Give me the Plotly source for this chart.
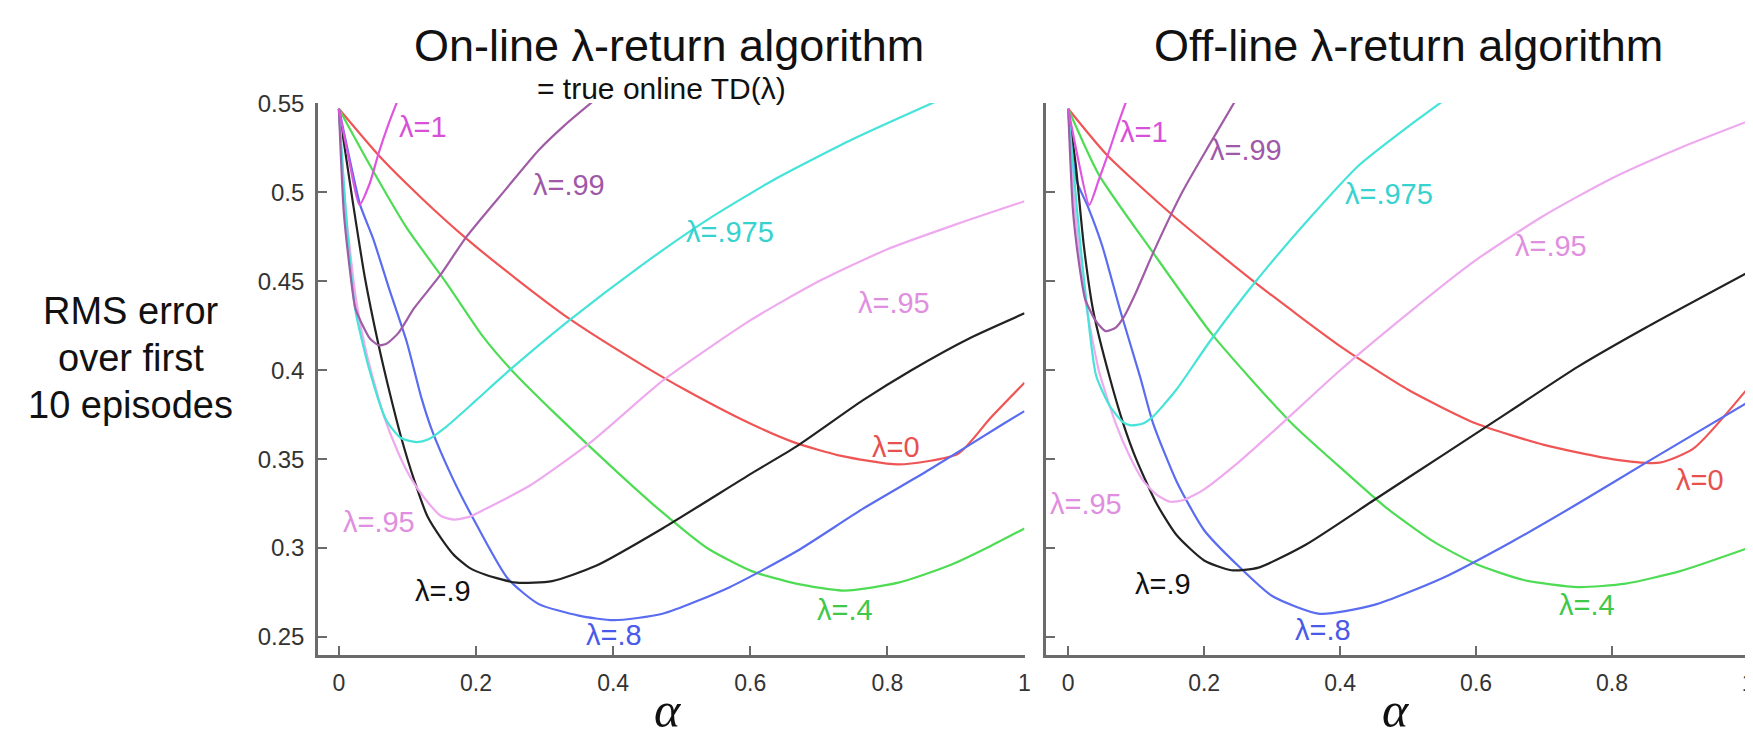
import plotly.graph_objects as go

# ---------------- data ----------------
# On-line lambda-return algorithm (left panel)
on_l0_a = [0, 0.06, 0.12, 0.186, 0.26, 0.336, 0.438, 0.505, 0.6, 0.667, 0.731, 0.816, 0.903, 0.95, 1.0]
on_l0_v = [0.547, 0.520, 0.497, 0.474, 0.451, 0.429, 0.404, 0.389, 0.370, 0.359, 0.352, 0.347, 0.353, 0.373, 0.393]

on_l4_a = [0, 0.05, 0.099, 0.157, 0.21, 0.252, 0.317, 0.408, 0.472, 0.537, 0.602, 0.667, 0.738, 0.816, 0.893, 0.95, 1.0]
on_l4_v = [0.547, 0.512, 0.480, 0.449, 0.419, 0.400, 0.375, 0.342, 0.320, 0.300, 0.287, 0.280, 0.276, 0.2805, 0.2906, 0.301, 0.311]

on_l8_a = [0, 0.017, 0.031, 0.05, 0.074, 0.099, 0.12, 0.136, 0.165, 0.194, 0.246, 0.291, 0.35, 0.401, 0.472, 0.57, 0.667, 0.764, 0.861, 0.97, 1.0]
on_l8_v = [0.547, 0.5165, 0.493, 0.474, 0.445, 0.416, 0.385, 0.366, 0.340, 0.318, 0.283, 0.2686, 0.262, 0.2594, 0.263, 0.278, 0.298, 0.322, 0.344, 0.370, 0.377]

on_l9_a = [0, 0.021, 0.038, 0.058, 0.075, 0.091, 0.11, 0.129, 0.15, 0.168, 0.19, 0.214, 0.259, 0.311, 0.375, 0.472, 0.602, 0.667, 0.764, 0.835, 0.92, 1.0]
on_l9_v = [0.547, 0.493, 0.452, 0.414, 0.386, 0.362, 0.338, 0.318, 0.305, 0.296, 0.289, 0.285, 0.2805, 0.2814, 0.290, 0.311, 0.342, 0.357, 0.383, 0.400, 0.418, 0.432]

on_l95_a = [0, 0.01, 0.025, 0.04, 0.065, 0.085, 0.104, 0.125, 0.149, 0.168, 0.19, 0.214, 0.278, 0.369, 0.472, 0.6, 0.7, 0.8, 0.9, 1.0]
on_l95_v = [0.547, 0.490, 0.440, 0.410, 0.375, 0.355, 0.340, 0.328, 0.318, 0.316, 0.3175, 0.322, 0.335, 0.360, 0.394, 0.428, 0.450, 0.468, 0.482, 0.495]

on_l975_a = [0, 0.012, 0.024, 0.044, 0.069, 0.09, 0.113, 0.13, 0.156, 0.2, 0.249, 0.336, 0.438, 0.535, 0.634, 0.75, 0.87]
on_l975_v = [0.547, 0.480, 0.434, 0.401, 0.372, 0.362, 0.3596, 0.361, 0.368, 0.383, 0.400, 0.428, 0.458, 0.484, 0.507, 0.530, 0.551]

on_l99_a = [0, 0.007, 0.015, 0.024, 0.035, 0.045, 0.058, 0.07, 0.087, 0.11, 0.147, 0.186, 0.244, 0.292, 0.33, 0.37]
on_l99_v = [0.547, 0.490, 0.460, 0.435, 0.425, 0.418, 0.414, 0.415, 0.421, 0.435, 0.453, 0.475, 0.502, 0.524, 0.538, 0.551]

on_l1_a = [0, 0.015, 0.03, 0.045, 0.058, 0.072, 0.086]
on_l1_v = [0.547, 0.518, 0.493, 0.505, 0.522, 0.538, 0.552]

# Off-line lambda-return algorithm (right panel)
off_l0_a = [0, 0.057, 0.154, 0.276, 0.402, 0.5, 0.6, 0.7, 0.8, 0.87, 0.92, 1.0]
off_l0_v = [0.547, 0.521, 0.487, 0.449, 0.413, 0.389, 0.370, 0.358, 0.350, 0.348, 0.356, 0.390]

off_l4_a = [0, 0.045, 0.125, 0.212, 0.329, 0.41, 0.47, 0.54, 0.6, 0.67, 0.75, 0.82, 0.9, 1.0]
off_l4_v = [0.547, 0.510, 0.466, 0.420, 0.370, 0.342, 0.322, 0.303, 0.291, 0.282, 0.278, 0.280, 0.287, 0.300]

off_l8_a = [0, 0.012, 0.029, 0.05, 0.077, 0.106, 0.125, 0.16, 0.2, 0.25, 0.3, 0.37, 0.45, 0.55, 0.65, 0.75, 0.85, 1.0]
off_l8_v = [0.547, 0.507, 0.492, 0.470, 0.433, 0.396, 0.370, 0.337, 0.310, 0.290, 0.273, 0.263, 0.268, 0.283, 0.303, 0.325, 0.348, 0.382]

off_l9_a = [0, 0.011, 0.023, 0.037, 0.061, 0.081, 0.1, 0.13, 0.16, 0.2, 0.24, 0.28, 0.35, 0.45, 0.55, 0.65, 0.75, 0.85, 1.0]
off_l9_v = [0.547, 0.516, 0.470, 0.433, 0.396, 0.370, 0.350, 0.325, 0.307, 0.293, 0.2875, 0.289, 0.302, 0.327, 0.352, 0.377, 0.402, 0.424, 0.455]

off_l95_a = [0, 0.01, 0.025, 0.045, 0.07, 0.09, 0.11, 0.13, 0.15, 0.17, 0.2, 0.25, 0.3, 0.4, 0.5, 0.6, 0.7, 0.8, 0.9, 1.0]
off_l95_v = [0.547, 0.490, 0.440, 0.400, 0.370, 0.352, 0.338, 0.330, 0.326, 0.327, 0.333, 0.348, 0.365, 0.400, 0.432, 0.462, 0.487, 0.508, 0.525, 0.540]

off_l975_a = [0, 0.013, 0.028, 0.041, 0.061, 0.08, 0.092, 0.11, 0.125, 0.159, 0.208, 0.276, 0.354, 0.427, 0.5, 0.55]
off_l975_v = [0.547, 0.490, 0.434, 0.397, 0.380, 0.371, 0.369, 0.370, 0.374, 0.389, 0.416, 0.450, 0.485, 0.515, 0.537, 0.551]

off_l99_a = [0, 0.007, 0.016, 0.025, 0.04, 0.055, 0.07, 0.082, 0.1, 0.125, 0.169, 0.208, 0.245]
off_l99_v = [0.547, 0.490, 0.460, 0.440, 0.428, 0.422, 0.424, 0.430, 0.444, 0.466, 0.501, 0.527, 0.551]

off_l1_a = [0, 0.015, 0.031, 0.045, 0.06, 0.073, 0.086]
off_l1_v = [0.547, 0.518, 0.493, 0.507, 0.523, 0.538, 0.552]

# curve labels: (text, alpha, value)
on_labels = [("λ=1", 0.123, 0.537), ("λ=.99", 0.336, 0.504), ("λ=.975", 0.57, 0.478),
             ("λ=.95", 0.81, 0.438), ("λ=0", 0.812, 0.357), ("λ=.95", 0.058, 0.3145),
             ("λ=.9", 0.152, 0.276), ("λ=.8", 0.401, 0.251), ("λ=.4", 0.738, 0.265)]
off_labels = [("λ=1", 0.111, 0.534), ("λ=.99", 0.261, 0.524), ("λ=.975", 0.472, 0.499),
              ("λ=.95", 0.71, 0.470), ("λ=0", 0.93, 0.338), ("λ=.95", 0.026, 0.325),
              ("λ=.9", 0.14, 0.280), ("λ=.8", 0.375, 0.254), ("λ=.4", 0.763, 0.268)]

x_ticks = [0, 0.2, 0.4, 0.6, 0.8, 1]
x_ticktext = ["0", "0.2", "0.4", "0.6", "0.8", "1"]
y_ticks = [0.25, 0.3, 0.35, 0.4, 0.45, 0.5, 0.55]
y_ticktext = ["0.25", "0.3", "0.35", "0.4", "0.45", "0.5", "0.55"]

# ---------------- styles ----------------
line_colors = {"0": "#f05555", ".4": "#4fdc55", ".8": "#5a6cf0", ".9": "#222222",
               ".95": "#eeaaee", ".975": "#45e3d8", ".99": "#a05ca6", "1": "#e055e0"}
label_colors = {"λ=0": "#e85050", "λ=.4": "#40c848", "λ=.8": "#4a5ae8", "λ=.9": "#111111",
                "λ=.95": "#e08fe0", "λ=.975": "#35d2d0", "λ=.99": "#a058a8", "λ=1": "#d850d8"}

W, H = 1753, 736
SANS = "Liberation Sans, Arial, Helvetica, sans-serif"
SERIF = "Liberation Serif, Times New Roman, serif"


def px(xp):
    return xp / W


def py(yp):
    return 1 - yp / H


fig = go.Figure()

on_series = [(on_l0_a, on_l0_v, "0"), (on_l4_a, on_l4_v, ".4"), (on_l8_a, on_l8_v, ".8"),
             (on_l9_a, on_l9_v, ".9"), (on_l95_a, on_l95_v, ".95"), (on_l975_a, on_l975_v, ".975"),
             (on_l99_a, on_l99_v, ".99"), (on_l1_a, on_l1_v, "1")]
off_series = [(off_l0_a, off_l0_v, "0"), (off_l4_a, off_l4_v, ".4"), (off_l8_a, off_l8_v, ".8"),
              (off_l9_a, off_l9_v, ".9"), (off_l95_a, off_l95_v, ".95"), (off_l975_a, off_l975_v, ".975"),
              (off_l99_a, off_l99_v, ".99"), (off_l1_a, off_l1_v, "1")]

for axes, series in (("x", on_series), ("x2", off_series)):
    for a, v, k in series:
        fig.add_trace(go.Scatter(x=a, y=v, mode="lines", xaxis=axes, yaxis=axes.replace("x", "y"),
                                 line=dict(color=line_colors[k], width=2.2, shape="spline", smoothing=0.6),
                                 showlegend=False, name="λ=" + k))

annotations = []
for ref, labels in (("x", on_labels), ("x2", off_labels)):
    for txt, a, v in labels:
        annotations.append(dict(x=a, y=v, xref=ref, yref=ref.replace("x", "y"), text=txt,
                                showarrow=False, xanchor="center", yanchor="middle",
                                font=dict(family=SANS, size=29, color=label_colors[txt])))


def note(x, y, text, size, family=SANS):
    return dict(x=px(x), y=py(y), xref="paper", yref="paper", text=text, showarrow=False,
                xanchor="center", yanchor="middle", font=dict(family=family, size=size, color="#111111"))


annotations += [
    note(663, 25, "On-line λ-return algorithm", 45),
    note(656, 69, "= true online TD(λ)", 30),
    note(1405, 25, "Off-line λ-return algorithm", 45),
    note(123, 295, "RMS error", 38),
    note(123, 343, "over first", 38),
    note(123, 391, "10 episodes", 38),
    note(662, 701, "<i>α</i>", 50, SERIF),
    note(1393, 701, "<i>α</i>", 50, SERIF),
]

AX = "#6b6b6b"
common_x = dict(tickvals=x_ticks, ticktext=x_ticktext, ticks="inside",
                ticklen=9, tickwidth=2, tickcolor=AX, showline=True, linecolor=AX, linewidth=2.5,
                showgrid=False, zeroline=False, ticklabelstandoff=6,
                tickfont=dict(family=SANS, size=23, color="#333333"))
common_y = dict(range=[0.24, 0.5502], tickvals=y_ticks, ticktext=y_ticktext, ticks="inside",
                ticklen=9, tickwidth=2, tickcolor=AX, showline=True, linecolor=AX, linewidth=2.5,
                showgrid=False, zeroline=False, ticklabelstandoff=6,
                tickfont=dict(family=SANS, size=24, color="#333333"))

ydom = [py(645.1), py(83.6)]
fig.update_layout(
    width=W, height=H, margin=dict(l=0, r=0, t=0, b=0),
    paper_bgcolor="white", plot_bgcolor="white", showlegend=False,
    xaxis=dict(domain=[px(311), px(1020)], anchor="y", range=[-0.0305, 1.0], **common_x),
    yaxis=dict(domain=ydom, anchor="x", **common_y),
    xaxis2=dict(domain=[px(1042), px(1746)], anchor="y2", range=[-0.032, 1.0], **common_x),
    yaxis2=dict(domain=ydom, anchor="x2", showticklabels=False, **common_y),
    annotations=annotations,
)

fig.write_html("out.html")
